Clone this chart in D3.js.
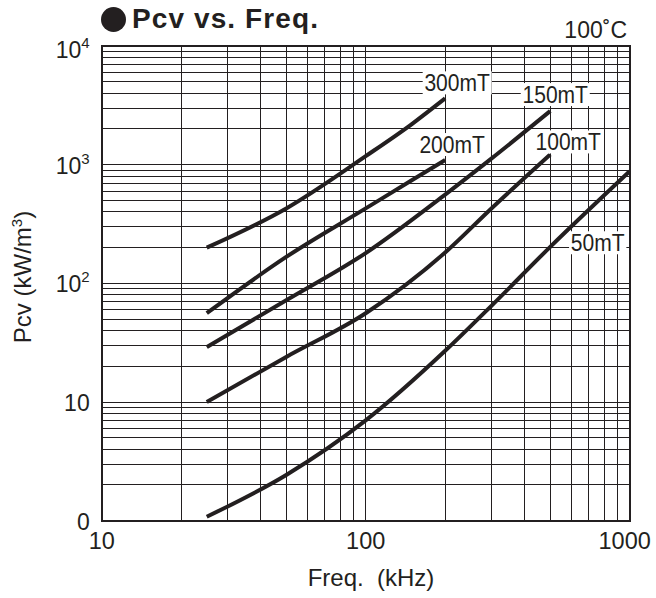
<!DOCTYPE html>
<html>
<head>
<meta charset="utf-8">
<script src="https://cdn.jsdelivr.net/npm/d3@7"></script>
<style>
  html, body { margin: 0; padding: 0; background: #fff; }
  svg { display: block; }
  text { font-family: "Liberation Sans", Arial, Helvetica, sans-serif; fill: #231f20; }
</style>
</head>
<body>
<svg id="chart" width="656" height="598"></svg>
<script>
// Core-loss curves, Pcv (kW/m³) against frequency (kHz), at 100 °C
const series = ["300mT", "200mT", "150mT", "100mT", "50mT"];

const freq300 = [25, 50, 100, 150, 200];
const pcv300  = [200, 428, 1180, 2210, 3620];

const freq200 = [25, 50, 100, 150, 200];
const pcv200  = [56, 167, 428, 742, 1094];

const freq150 = [25, 50, 100, 200, 300, 500];
const pcv150  = [29, 72, 180, 560, 1130, 2830];

const freq100 = [25, 50, 100, 200, 300, 500];
const pcv100  = [10, 24, 56, 182, 430, 1220];

const freq50  = [25, 50, 100, 200, 300, 500, 1000];
const pcv50   = [1.08, 2.43, 7.0, 27, 65, 203, 880];

// Axis ticks
const xTickValues = [10, 100, 1000];
const xTickLabels = ["10", "100", "1000"];
const yTickValues = [1, 10, 100, 1000, 10000];
const yTickBase   = ["0", "10", "10", "10", "10"];
const yTickExp    = ["", "", "2", "3", "4"];

const curves = [
  { name: series[0], f: freq300, v: pcv300 },
  { name: series[1], f: freq200, v: pcv200 },
  { name: series[2], f: freq150, v: pcv150 },
  { name: series[3], f: freq100, v: pcv100 },
  { name: series[4], f: freq50,  v: pcv50 }
];

// Curve-label placement, offset in px from each curve's last point
const labelOffsets = {
  "300mT": [12, -7],
  "200mT": [7, -7],
  "150mT": [5, -8],
  "100mT": [18, -4],
  "50mT":  [-32, 80]
};

const W = 656, H = 598;
const margin = { top: 46, right: 26.3, bottom: 77.3, left: 101.7 };
const ink = "#231f20";

const svg = d3.select("#chart");

const x = d3.scaleLog().domain([10, 1000]).range([margin.left, W - margin.right]);
const y = d3.scaleLog().domain([1, 10000]).range([H - margin.bottom, margin.top]);

// Logarithmic grid: 1..9 within each decade
const xGrid = [];
[10, 100].forEach(d => { for (let k = 1; k <= 9; k++) xGrid.push(d * k); });
xGrid.push(1000);
const yGrid = [];
[1, 10, 100, 1000].forEach(d => { for (let k = 1; k <= 9; k++) yGrid.push(d * k); });
yGrid.push(10000);

const grid = svg.append("g").attr("stroke", ink).attr("stroke-width", 1).attr("shape-rendering", "crispEdges");
grid.selectAll("line.v").data(xGrid).join("line")
  .attr("class", "v")
  .attr("x1", d => x(d)).attr("x2", d => x(d))
  .attr("y1", y(1)).attr("y2", y(10000));
grid.selectAll("line.h").data(yGrid).join("line")
  .attr("class", "h")
  .attr("y1", d => y(d)).attr("y2", d => y(d))
  .attr("x1", x(10)).attr("x2", x(1000));

svg.append("rect")
  .attr("x", x(10)).attr("y", y(10000))
  .attr("width", x(1000) - x(10)).attr("height", y(1) - y(10000))
  .attr("fill", "none").attr("stroke", ink).attr("stroke-width", 2)
  .attr("shape-rendering", "crispEdges");

// Curves
const line = d3.line()
  .x(d => x(d[0]))
  .y(d => y(d[1]))
  .curve(d3.curveMonotoneX);

svg.append("g").selectAll("path").data(curves).join("path")
  .attr("d", c => line(c.f.map((f, i) => [f, c.v[i]])))
  .attr("fill", "none")
  .attr("stroke", ink)
  .attr("stroke-width", 4)
  .attr("stroke-linecap", "butt")
  .attr("stroke-linejoin", "round");

// Curve labels on white boxes (condensed lettering)
const labels = svg.append("g");
curves.forEach(c => {
  const n = c.f.length - 1;
  const off = labelOffsets[c.name];
  const cx = x(c.f[n]) + off[0];
  const by = y(c.v[n]) + off[1];
  const g = labels.append("g").attr("transform", `translate(${cx},${by}) scale(0.86,1)`);
  const t = g.append("text")
    .attr("x", 0).attr("y", 0)
    .attr("text-anchor", "middle")
    .style("font-size", "24.5px")
    .text(c.name);
  const bb = t.node().getBBox();
  g.insert("rect", "text")
    .attr("x", bb.x - 2).attr("y", -20)
    .attr("width", bb.width + 4).attr("height", 23)
    .attr("fill", "#fff");
});

// Y tick labels
const yl = svg.append("g");
yTickValues.forEach((v, i) => {
  const t = yl.append("text")
    .attr("x", margin.left - 12)
    .attr("y", y(v) + (i === yTickValues.length - 1 ? 12 : 9))
    .attr("text-anchor", "end")
    .style("font-size", "23px");
  t.append("tspan").text(yTickBase[i]);
  if (yTickExp[i]) {
    t.append("tspan").attr("dy", -10).style("font-size", "15px").text(yTickExp[i]);
  }
});

// X tick labels
svg.append("g").selectAll("text").data(xTickValues).join("text")
  .attr("x", d => x(d))
  .attr("dx", (d, i) => i === xTickValues.length - 1 ? -5 : 0)
  .attr("y", H - margin.bottom + 28)
  .attr("text-anchor", "middle")
  .style("font-size", "23.5px")
  .text((d, i) => xTickLabels[i]);

// Axis titles
svg.append("text")
  .attr("x", 371).attr("y", 586)
  .attr("text-anchor", "middle")
  .style("font-size", "24px")
  .style("white-space", "pre")
  .text("Freq.  (kHz)");

const yt = svg.append("text")
  .attr("transform", "translate(31,277) rotate(-90)")
  .attr("text-anchor", "middle")
  .style("font-size", "24px");
yt.append("tspan").text("Pcv (kW/m");
yt.append("tspan").attr("dy", -9).style("font-size", "15px").text("3");
yt.append("tspan").attr("dy", 9).text(")");

// Title and temperature note
svg.append("circle").attr("cx", 113.5).attr("cy", 19.5).attr("r", 12.5).attr("fill", ink);
svg.append("text")
  .attr("x", 132).attr("y", 28)
  .style("font-size", "28px")
  .style("font-weight", "bold")
  .style("letter-spacing", "1.1px")
  .text("Pcv vs. Freq.");

svg.append("text")
  .attr("x", 627).attr("y", 38)
  .attr("text-anchor", "end")
  .style("font-size", "23px")
  .text("100˚C");
</script>
</body>
</html>
